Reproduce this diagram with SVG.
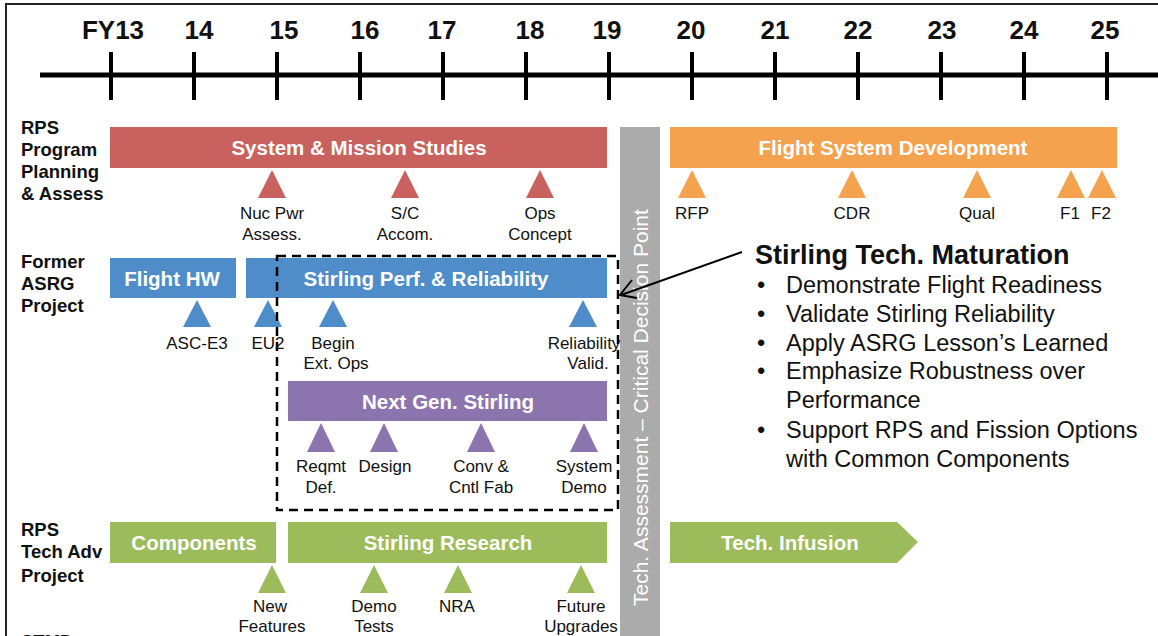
<svg xmlns="http://www.w3.org/2000/svg" width="1158" height="636" viewBox="0 0 1158 636">
<style>
.yr{font-family:"Liberation Sans",Arial,sans-serif;font-weight:bold;font-size:26px;fill:#111;text-anchor:middle}
.row{font-family:"Liberation Sans",Arial,sans-serif;font-weight:bold;font-size:18.5px;fill:#111}
.bar{font-family:"Liberation Sans",Arial,sans-serif;font-weight:bold;font-size:20.5px;fill:#fff;text-anchor:middle}
.lbl{font-family:"Liberation Sans",Arial,sans-serif;font-size:17px;fill:#111;text-anchor:middle}
.hd{font-family:"Liberation Sans",Arial,sans-serif;font-weight:bold;font-size:27px;fill:#111}
.bl{font-family:"Liberation Sans",Arial,sans-serif;font-size:23.5px;fill:#111}
.tick{stroke:#000;stroke-width:4}
.red{fill:#C9615E}.org{fill:#F5A24F}.blu{fill:#4F8DCA}.pur{fill:#8C74AF}.grn{fill:#9CBB5A}
</style>
<rect x="6" y="4" width="1160" height="700" fill="#fff" stroke="#222" stroke-width="2"/>
<g id="timeline">
<line x1="40" y1="75" x2="1158" y2="75" stroke="#000" stroke-width="5"/>
<g class="tick">
<line x1="111" y1="52" x2="111" y2="100"/><line x1="194" y1="52" x2="194" y2="100"/><line x1="277" y1="52" x2="277" y2="100"/><line x1="360" y1="52" x2="360" y2="100"/><line x1="443" y1="52" x2="443" y2="100"/><line x1="526" y1="52" x2="526" y2="100"/><line x1="609" y1="52" x2="609" y2="100"/><line x1="692" y1="52" x2="692" y2="100"/><line x1="775" y1="52" x2="775" y2="100"/><line x1="858" y1="52" x2="858" y2="100"/><line x1="941" y1="52" x2="941" y2="100"/><line x1="1024" y1="52" x2="1024" y2="100"/><line x1="1107" y1="52" x2="1107" y2="100"/>
</g>
<text class="yr" x="113" y="39">FY13</text><text class="yr" x="199" y="39">14</text><text class="yr" x="284" y="39">15</text><text class="yr" x="365" y="39">16</text><text class="yr" x="442" y="39">17</text><text class="yr" x="530" y="39">18</text><text class="yr" x="607" y="39">19</text><text class="yr" x="691" y="39">20</text><text class="yr" x="775" y="39">21</text><text class="yr" x="858" y="39">22</text><text class="yr" x="942" y="39">23</text><text class="yr" x="1024" y="39">24</text><text class="yr" x="1105" y="39">25</text>
</g>
<g id="row-labels">
<text class="row" x="21" y="134">RPS</text><text class="row" x="21" y="156">Program</text><text class="row" x="21" y="178">Planning</text><text class="row" x="21" y="200">&amp; Assess</text>
<text class="row" x="21" y="268">Former</text><text class="row" x="21" y="290">ASRG</text><text class="row" x="21" y="312">Project</text>
<text class="row" x="21" y="536">RPS</text><text class="row" x="21" y="558">Tech Adv</text><text class="row" x="21" y="582">Project</text>
<text class="row" x="21" y="648">STMD</text>
</g>
<g id="critical-decision">
<rect x="620" y="127" width="40" height="520" fill="#ABABAB"/>
<text transform="translate(648,606) rotate(-90)" font-family="Liberation Sans,Arial,sans-serif" font-size="21" fill="#fff">Tech. Assessment – Critical Decision Point</text>
</g>
<g id="system-mission">
<rect class="red" x="110" y="127" width="497" height="41"/>
<text class="bar" x="359" y="155">System &amp; Mission Studies</text>
<polygon class="red" points="272,170 258,198 286,198"/><polygon class="red" points="405,170 391,198 419,198"/><polygon class="red" points="540,170 526,198 554,198"/>
<text class="lbl" x="272" y="219">Nuc Pwr</text><text class="lbl" x="272" y="240">Assess.</text>
<text class="lbl" x="405" y="219">S/C</text><text class="lbl" x="405" y="240">Accom.</text>
<text class="lbl" x="540" y="219">Ops</text><text class="lbl" x="540" y="240">Concept</text>
</g>
<g id="flight-system">
<rect class="org" x="670" y="127" width="447" height="41"/>
<text class="bar" x="893" y="155">Flight System Development</text>
<polygon class="org" points="692,170 678,198 706,198"/><polygon class="org" points="852,170 838,198 866,198"/><polygon class="org" points="977,170 963,198 991,198"/><polygon class="org" points="1071,170 1057,198 1085,198"/><polygon class="org" points="1102,170 1088,198 1116,198"/>
<text class="lbl" x="692" y="219">RFP</text><text class="lbl" x="852" y="219">CDR</text><text class="lbl" x="977" y="219">Qual</text><text class="lbl" x="1070" y="219">F1</text><text class="lbl" x="1101" y="219">F2</text>
</g>
<g id="flight-hw">
<rect class="blu" x="110" y="258" width="126" height="40"/>
<text class="bar" x="172" y="286">Flight HW</text>
<polygon class="blu" points="197,300 183,327 211,327"/>
<text class="lbl" x="197" y="349">ASC-E3</text>
</g>
<g id="stirling-perf">
<rect class="blu" x="246" y="258" width="361" height="40"/>
<text class="bar" x="426" y="286">Stirling Perf. &amp; Reliability</text>
<polygon class="blu" points="268,300 254,327 282,327"/><polygon class="blu" points="333,300 319,327 347,327"/><polygon class="blu" points="583,300 569,327 597,327"/>
<text class="lbl" x="268" y="349">EU2</text>
<text class="lbl" x="333" y="349">Begin</text><text class="lbl" x="336" y="369">Ext. Ops</text>
<text class="lbl" x="584" y="349">Reliability</text><text class="lbl" x="588" y="369">Valid.</text>
</g>
<g id="next-gen">
<rect class="pur" x="288" y="381" width="319" height="40"/>
<text class="bar" x="448" y="409">Next Gen. Stirling</text>
<polygon class="pur" points="321,423 307,452 335,452"/><polygon class="pur" points="384,423 370,452 398,452"/><polygon class="pur" points="481,423 467,452 495,452"/><polygon class="pur" points="584,423 570,452 598,452"/>
<text class="lbl" x="321" y="472">Reqmt</text><text class="lbl" x="321" y="493">Def.</text>
<text class="lbl" x="385" y="472">Design</text>
<text class="lbl" x="481" y="472">Conv &amp;</text><text class="lbl" x="481" y="493">Cntl Fab</text>
<text class="lbl" x="584" y="472">System</text><text class="lbl" x="584" y="493">Demo</text>
</g>
<g id="components">
<rect class="grn" x="110" y="522" width="166" height="41"/>
<text class="bar" x="194" y="550">Components</text>
<polygon class="grn" points="272,565 258,593 286,593"/>
<text class="lbl" x="270" y="612">New</text><text class="lbl" x="272" y="632">Features</text>
</g>
<g id="stirling-research">
<rect class="grn" x="288" y="522" width="319" height="41"/>
<text class="bar" x="448" y="550">Stirling Research</text>
<polygon class="grn" points="374,565 360,593 388,593"/><polygon class="grn" points="458,565 444,593 472,593"/><polygon class="grn" points="581,565 567,593 595,593"/>
<text class="lbl" x="374" y="612">Demo</text><text class="lbl" x="374" y="632">Tests</text>
<text class="lbl" x="457" y="612">NRA</text>
<text class="lbl" x="581" y="612">Future</text><text class="lbl" x="581" y="632">Upgrades</text>
</g>
<g id="tech-infusion">
<polygon class="grn" points="670,522 897,522 918,542 897,563 670,563"/>
<text class="bar" x="790" y="550">Tech. Infusion</text>
</g>
<g id="maturation">
<text class="hd" x="755" y="264">Stirling Tech. Maturation</text>
<text class="bl" x="757" y="293">•</text><text class="bl" x="786" y="293">Demonstrate Flight Readiness</text>
<text class="bl" x="757" y="322">•</text><text class="bl" x="786" y="322">Validate Stirling Reliability</text>
<text class="bl" x="757" y="351">•</text><text class="bl" x="786" y="351">Apply ASRG Lesson’s Learned</text>
<text class="bl" x="757" y="379">•</text><text class="bl" x="786" y="379">Emphasize Robustness over</text>
<text class="bl" x="786" y="408">Performance</text>
<text class="bl" x="757" y="438">•</text><text class="bl" x="786" y="438">Support RPS and Fission Options</text>
<text class="bl" x="786" y="467">with Common Components</text>
</g>
<g id="connectors">
<rect x="277" y="256" width="341" height="254" fill="none" stroke="#000" stroke-width="2.5" stroke-dasharray="9,6"/>
<line x1="742" y1="252" x2="621" y2="295" stroke="#000" stroke-width="2"/>
<polyline points="632,280 620,295 637,298" fill="none" stroke="#000" stroke-width="2"/>
</g>
</svg>
